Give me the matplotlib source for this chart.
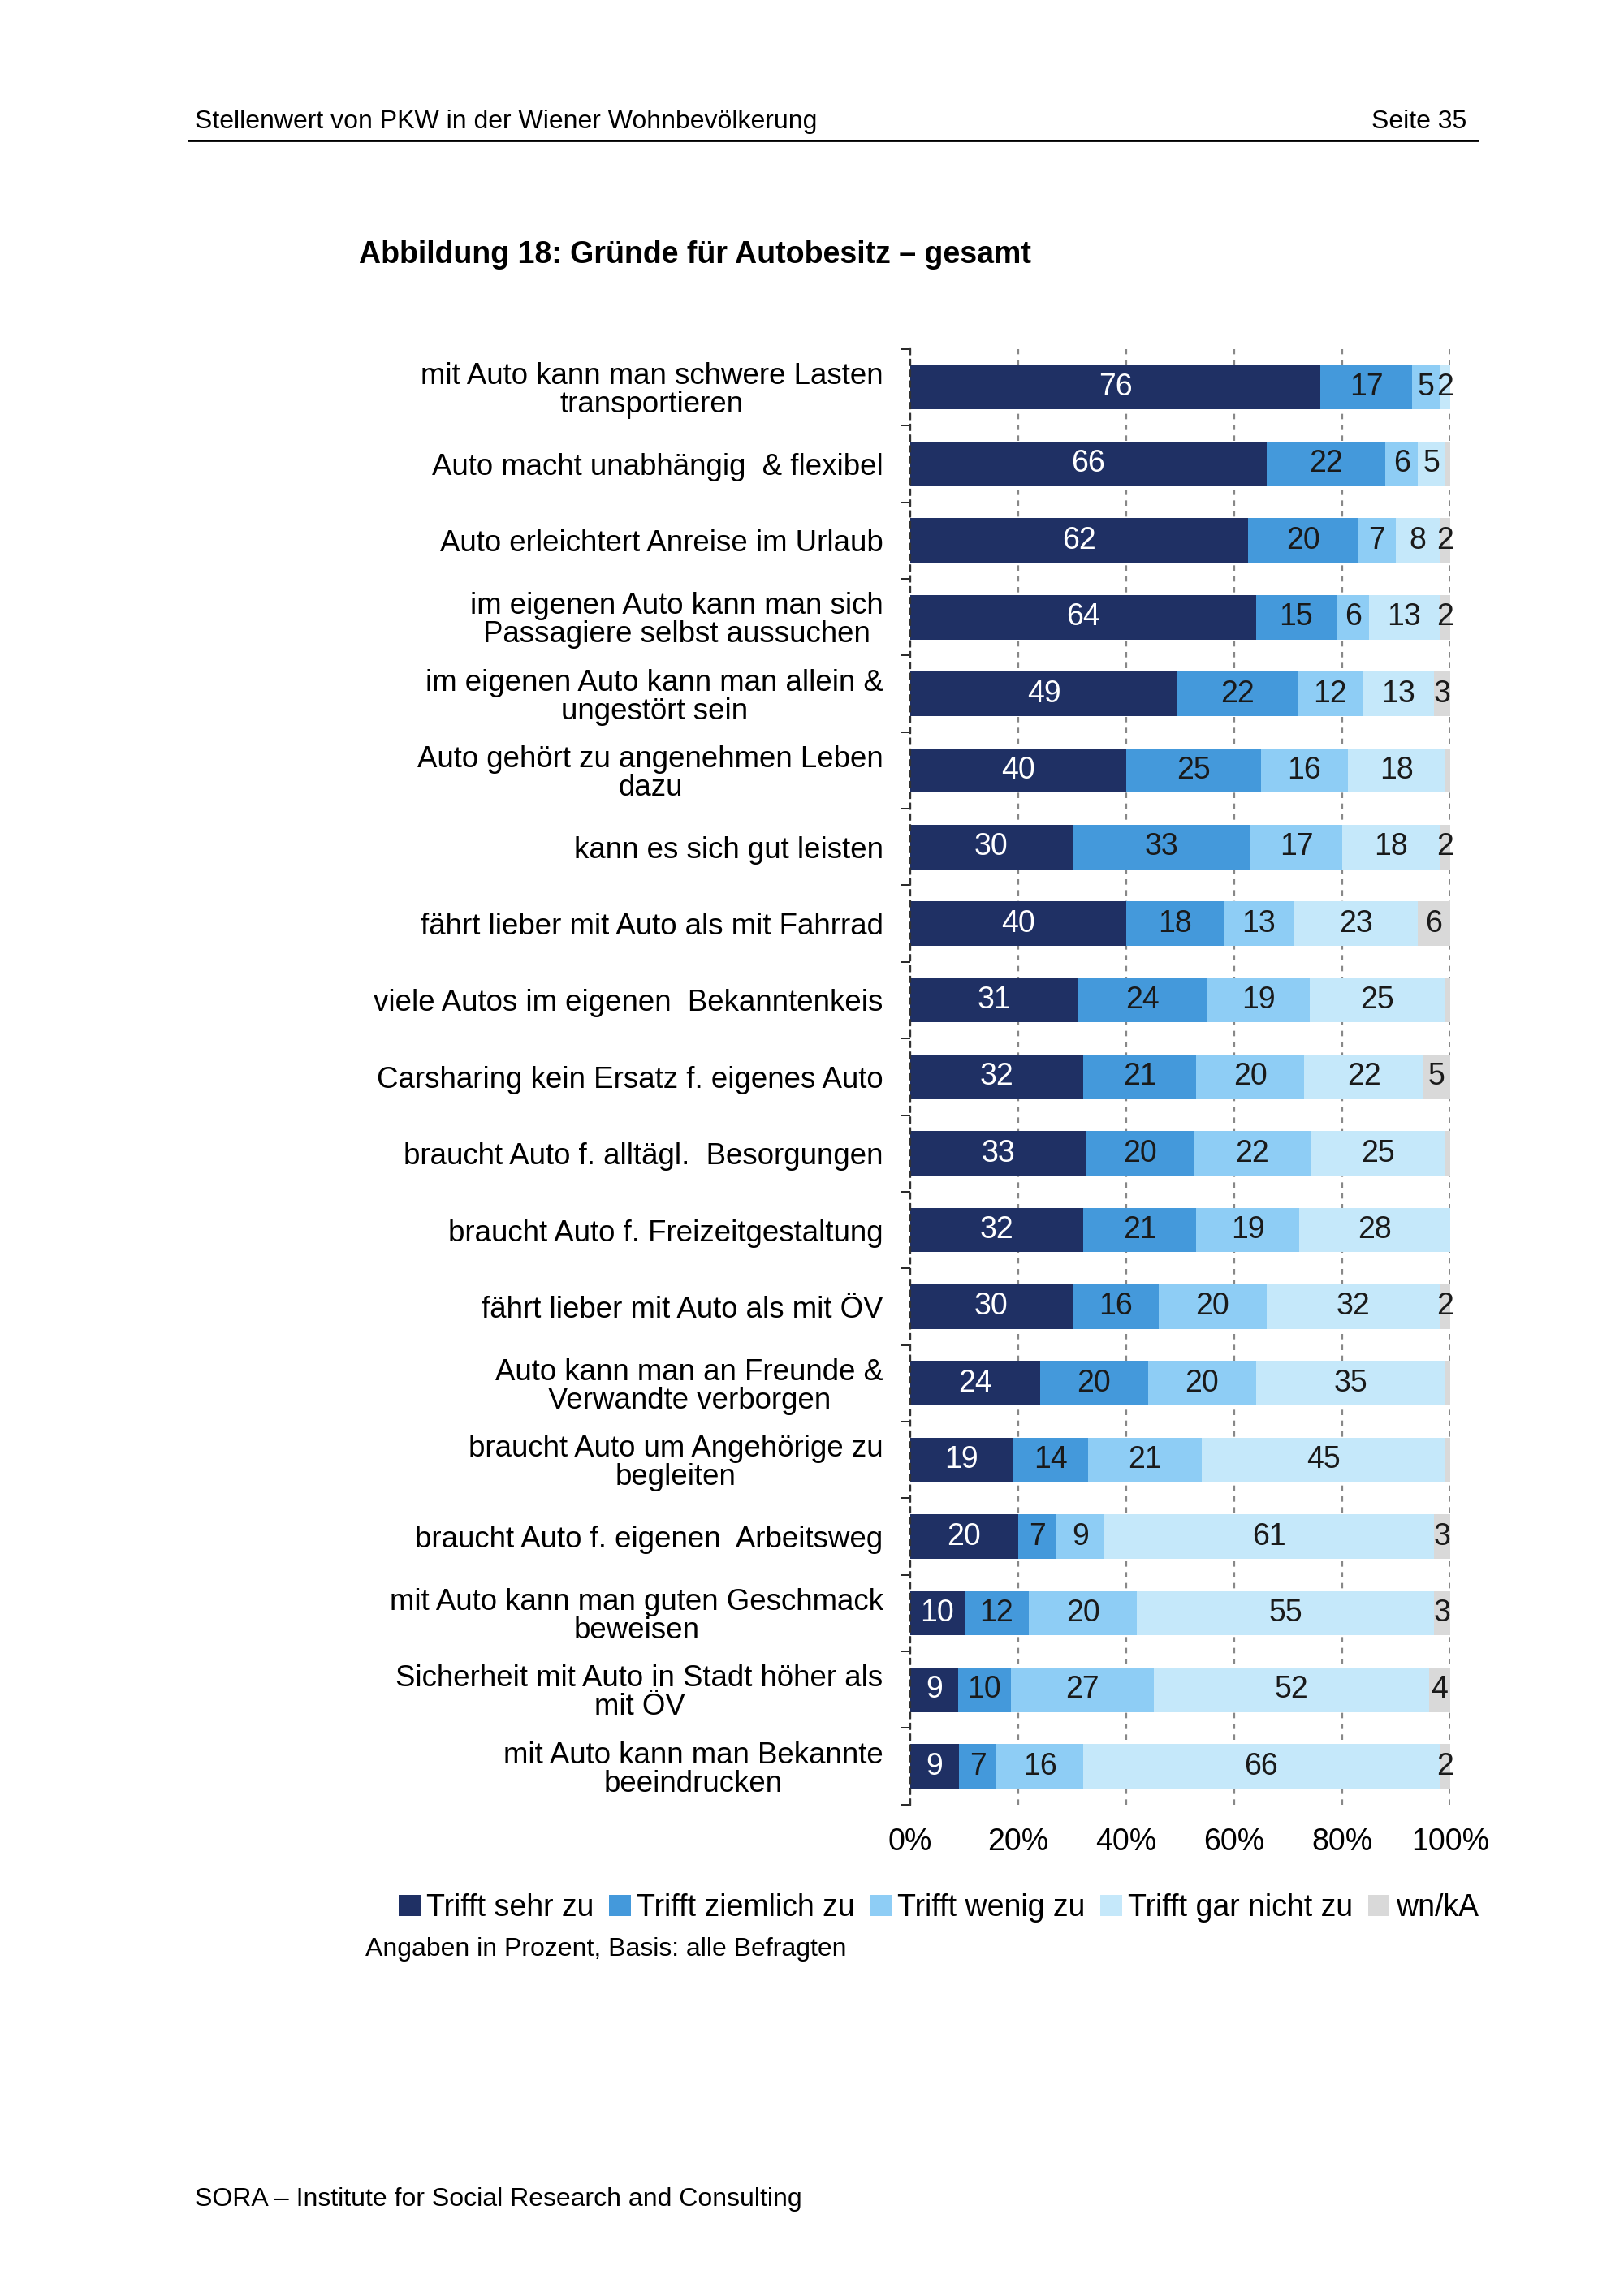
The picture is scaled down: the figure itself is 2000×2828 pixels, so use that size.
import matplotlib.pyplot as plt
import numpy as np

plt.rcParams['font.family'] = ['Liberation Sans', 'DejaVu Sans']

categories = [
    "mit Auto kann man schwere Lasten\ntransportieren",
    "Auto macht unabhängig  & flexibel",
    "Auto erleichtert Anreise im Urlaub",
    "im eigenen Auto kann man sich\nPassagiere selbst aussuchen",
    "im eigenen Auto kann man allein &\nungestört sein",
    "Auto gehört zu angenehmen Leben\ndazu",
    "kann es sich gut leisten",
    "fährt lieber mit Auto als mit Fahrrad",
    "viele Autos im eigenen  Bekanntenkeis",
    "Carsharing kein Ersatz f. eigenes Auto",
    "braucht Auto f. alltägl.  Besorgungen",
    "braucht Auto f. Freizeitgestaltung",
    "fährt lieber mit Auto als mit ÖV",
    "Auto kann man an Freunde &\nVerwandte verborgen",
    "braucht Auto um Angehörige zu\nbegleiten",
    "braucht Auto f. eigenen  Arbeitsweg",
    "mit Auto kann man guten Geschmack\nbeweisen",
    "Sicherheit mit Auto in Stadt höher als\nmit ÖV",
    "mit Auto kann man Bekannte\nbeeindrucken",
]
sehr = [76, 66, 62, 64, 49, 40, 30, 40, 31, 32, 33, 32, 30, 24, 19, 20, 10, 9, 9]
ziemlich = [17, 22, 20, 15, 22, 25, 33, 18, 24, 21, 20, 21, 16, 20, 14, 7, 12, 10, 7]
wenig = [5, 6, 7, 6, 12, 16, 17, 13, 19, 20, 22, 19, 20, 20, 21, 9, 20, 27, 16]
garnicht = [2, 5, 8, 13, 13, 18, 18, 23, 25, 22, 25, 28, 32, 35, 45, 61, 55, 52, 66]
wnka = [0, 1, 2, 2, 3, 1, 2, 6, 1, 5, 1, 0, 2, 1, 1, 3, 3, 4, 2]

series = [sehr, ziemlich, wenig, garnicht, wnka]
names = ["Trifft sehr zu", "Trifft ziemlich zu", "Trifft wenig zu", "Trifft gar nicht zu", "wn/kA"]
colors = ["#1F3064", "#4499DB", "#8ECDF5", "#C5E8FA", "#D9D9D9"]
txtcol = ["white", "#1a1a1a", "#1a1a1a", "#1a1a1a", "#1a1a1a"]

fig = plt.figure(figsize=(10, 14.14), dpi=200)
ax = fig.add_axes([0.5605, 0.214, 0.3325, 0.634])

y = np.arange(len(categories))
left = np.zeros(len(categories))
total = np.array([sum(col) for col in zip(*series)], dtype=float)
for s, name, c, tc in zip(series, names, colors, txtcol):
    vals = np.array(s, dtype=float)
    w = vals / total * 100
    ax.barh(y, w, left=left, height=0.58, color=c, label=name, edgecolor='none')
    for yi, (l, wi, v) in enumerate(zip(left, w, vals)):
        if v >= 2:
            ax.text(l + wi / 2, yi, f"{int(v)}", ha='center', va='center',
                    color=tc, fontsize=13.5)
    left += w

ax.set_ylim(len(categories) - 0.5, -0.5)
ax.set_xlim(0, 100)
ax.set_yticks(y)
ax.set_yticklabels(categories, fontsize=13.2, linespacing=1.0, multialignment='center')
ax.tick_params(axis='y', length=0, pad=12)
ax.set_yticks(np.arange(-0.5, len(categories)), minor=True)
ax.tick_params(axis='y', which='minor', length=4, direction='out')
ax.set_xticks([0, 20, 40, 60, 80, 100])
ax.set_xticklabels(["0%", "20%", "40%", "60%", "80%", "100%"], fontsize=13.5)
ax.tick_params(axis='x', length=0, pad=10)
ax.grid(axis='x', color='#888888', linestyle=(0, (3, 3)), linewidth=0.8)
ax.set_axisbelow(True)
for sp in ['top', 'right', 'bottom']:
    ax.spines[sp].set_visible(False)
ax.spines['left'].set_linestyle((0, (3, 3)))
ax.spines['left'].set_color('#333333')

fig.legend(loc='center', bbox_to_anchor=(0.578, 0.169), ncol=5, frameon=False,
           fontsize=13.5, handlelength=0.7, handleheight=0.7, handletextpad=0.2,
           columnspacing=0.5)

fig.text(0.12, 0.947, "Stellenwert von PKW in der Wiener Wohnbevölkerung", fontsize=11.5, va='center')
fig.text(0.903, 0.947, "Seite 35", fontsize=11.5, va='center', ha='right')
fig.add_artist(plt.Line2D([0.116, 0.91], [0.939, 0.939], color='black', linewidth=1))
fig.text(0.221, 0.889, "Abbildung 18: Gründe für Autobesitz – gesamt", fontsize=13.5,
         fontweight='bold', va='center')
fig.text(0.225, 0.151, "Angaben in Prozent, Basis: alle Befragten", fontsize=11.5, va='center')
fig.text(0.12, 0.042, "SORA – Institute for Social Research and Consulting", fontsize=11.5, va='center')

fig.savefig("out.png", dpi=200)
